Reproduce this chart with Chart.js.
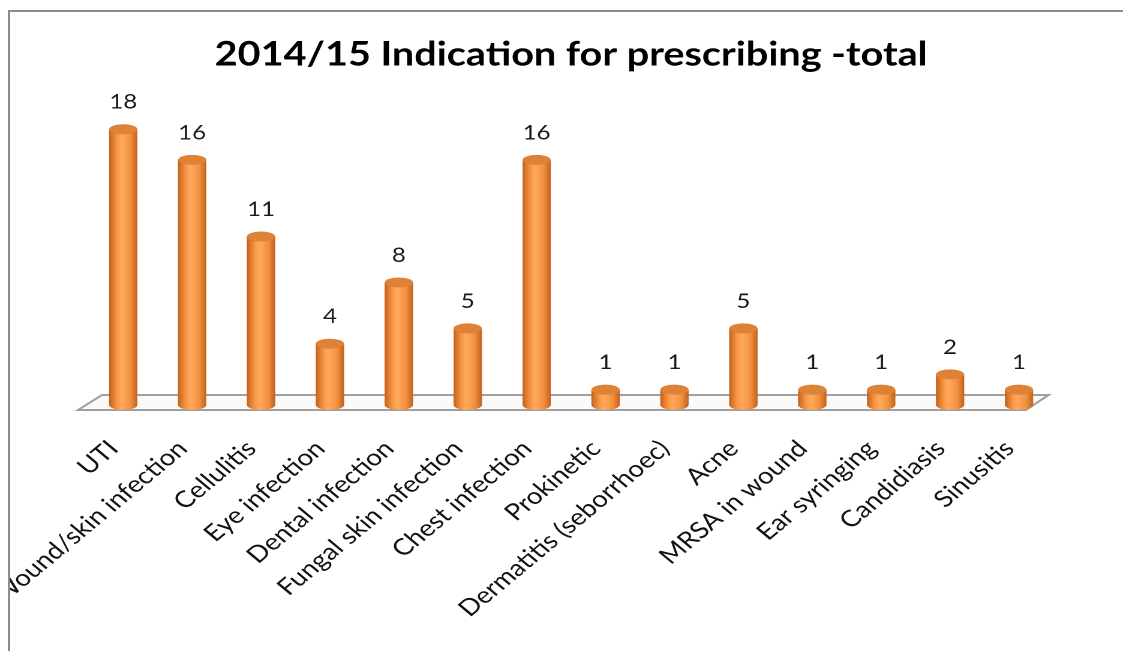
<!DOCTYPE html>
<html>
<head>
<meta charset="utf-8">
<script src="https://cdn.jsdelivr.net/npm/chart.js@4/dist/chart.umd.min.js"></script>
<style>
  html, body { margin: 0; padding: 0; background: #fff; }
  #wrap { width: 1123px; height: 651px; overflow: hidden; }
  /* the source picture is stretched sideways, so the canvas is drawn narrower and widened by css */
  #chart { width: 1123px; height: 651px; }
</style>
</head>
<body>
<div id="wrap"><canvas id="chart" width="936" height="651" style="width:1123px;height:651px"></canvas></div>
<script>
const categories = [
  "UTI", "Wound/skin infection", "Cellulitis", "Eye infection", "Dental infection",
  "Fungal skin infection", "Chest infection", "Prokinetic", "Dermatitis (seborrhoec)",
  "Acne", "MRSA in wound", "Ear syringing", "Candidiasis", "Sinusitis"
];
const counts = [18, 16, 11, 4, 8, 5, 16, 1, 1, 5, 1, 1, 2, 1];
const yMin = 0;
const yMax = 20;

const FONT = "Lato, 'Open Sans', sans-serif";

// grey frame of the cropped screenshot (left and top edges)
const framePlugin = {
  id: 'frame',
  afterDraw(chart) {
    const ctx = chart.ctx;
    ctx.save();
    ctx.fillStyle = '#fff';
    ctx.fillRect(0, 0, 6.5, chart.height);
    ctx.strokeStyle = '#8c8c8c';
    ctx.lineWidth = 2;
    ctx.beginPath();
    ctx.moveTo(7.5, chart.height);
    ctx.lineTo(7.5, 11);
    ctx.lineTo(chart.width, 11);
    ctx.stroke();
    ctx.restore();
  }
};

// 3d floor under the bars
const floorPlugin = {
  id: 'floor',
  beforeDatasetsDraw(chart) {
    const ctx = chart.ctx;
    const area = chart.chartArea;
    const y0 = chart.scales.y.getPixelForValue(0);
    const front = y0 + 5, back = y0 - 10;
    ctx.save();
    ctx.fillStyle = '#fafafa';
    ctx.strokeStyle = '#a0a0a0';
    ctx.lineWidth = 2;
    ctx.beginPath();
    ctx.moveTo(area.left - 9, front);
    ctx.lineTo(area.left + 11, back);
    ctx.lineTo(area.right - 4, back);
    ctx.lineTo(area.right - 23, front);
    ctx.closePath();
    ctx.fill();
    ctx.stroke();
    ctx.restore();
  }
};

// paint bars as cylinders and put the value above each one
const cylinderPlugin = {
  id: 'cylinder',
  afterDatasetsDraw(chart) {
    const ctx = chart.ctx;
    const meta = chart.getDatasetMeta(0);
    ctx.save();
    meta.data.forEach((bar, i) => {
      const half = bar.width / 2;
      const ry = 5;
      const g = ctx.createLinearGradient(bar.x - half, 0, bar.x + half, 0);
      g.addColorStop(0, '#c4621c');
      g.addColorStop(0.3, '#fb9a48');
      g.addColorStop(0.45, '#ffa95e');
      g.addColorStop(0.75, '#f2913f');
      g.addColorStop(1, '#c2611d');
      ctx.fillStyle = g;
      ctx.beginPath();
      ctx.moveTo(bar.x - half, bar.y);
      ctx.lineTo(bar.x - half, bar.base);
      ctx.ellipse(bar.x, bar.base, half, ry, 0, Math.PI, 0, true);
      ctx.lineTo(bar.x + half, bar.y);
      ctx.closePath();
      ctx.fill();

      ctx.fillStyle = '#dd8236';
      ctx.beginPath();
      ctx.ellipse(bar.x, bar.y, half, ry, 0, 0, Math.PI * 2);
      ctx.fill();

      ctx.fillStyle = '#1a1a1a';
      ctx.font = '20px ' + FONT;
      ctx.textAlign = 'center';
      ctx.textBaseline = 'middle';
      ctx.fillText(String(counts[i]), bar.x, bar.y - 27);
    });
    ctx.restore();
  }
};

new Chart(document.getElementById('chart').getContext('2d'), {
  type: 'bar',
  data: {
    labels: categories,
    datasets: [{
      data: counts,
      backgroundColor: '#f79646',
      barPercentage: 0.41,
      categoryPercentage: 1
    }]
  },
  options: {
    responsive: false,
    animation: false,
    devicePixelRatio: 2,
    layout: { padding: { left: 74, right: 58, top: 0, bottom: 0 } },
    plugins: {
      legend: { display: false },
      tooltip: { enabled: false },
      title: {
        display: true,
        text: '2014/15 Indication for prescribing -total',
        color: '#000',
        font: { family: FONT, size: 33, weight: 'bold' },
        padding: { top: 35, bottom: 24 }
      }
    },
    scales: {
      x: {
        grid: { display: false },
        border: { display: false },
        ticks: {
          color: '#111',
          font: { family: FONT, size: 23 },
          minRotation: 45,
          maxRotation: 45,
          autoSkip: false,
          padding: 22,
          labelOffset: -8
        },
        afterFit(scale) { scale.height = 246; }
      },
      y: {
        display: false,
        min: yMin,
        max: yMax
      }
    }
  },
  plugins: [floorPlugin, cylinderPlugin, framePlugin]
});
</script>
</body>
</html>
